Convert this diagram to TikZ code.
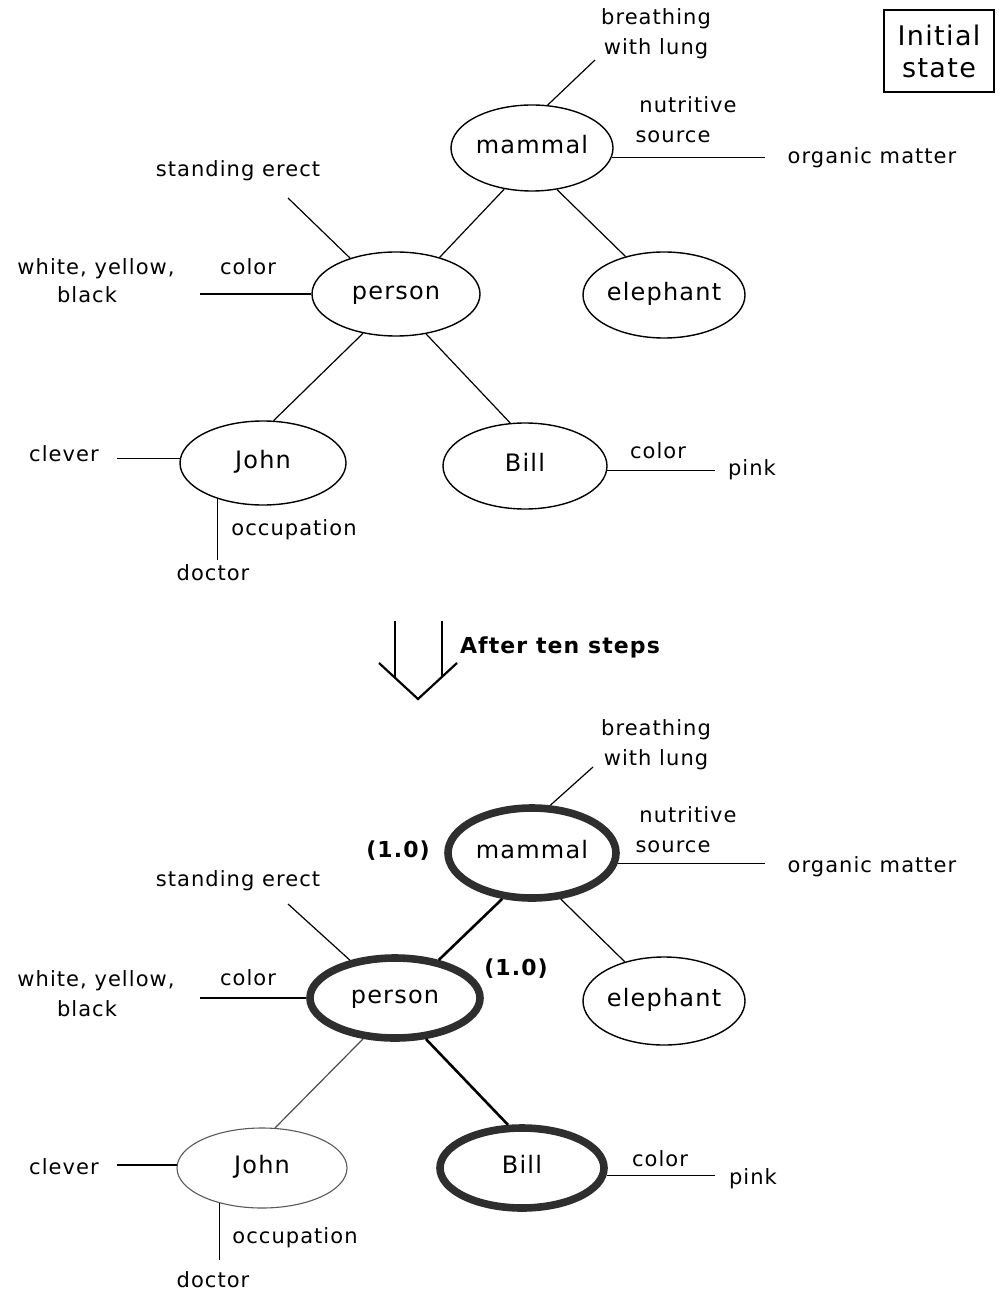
\documentclass[tikz,border=0pt]{standalone}
\usepackage{fontspec}
\setmainfont[LetterSpace=5]{DejaVu Sans}
\usetikzlibrary{shapes.geometric}
\tikzset{
  concept/.style={ellipse, draw=black, line width=0.7pt, inner sep=0pt,
    font=\fontsize{12}{14}\selectfont, text height=8pt, text depth=2.5pt},
  hot/.style={concept, draw=black!82, line width=3.8pt},
  faint/.style={concept, draw=black!65, line width=0.55pt},
  lab/.style={font=\fontsize{10.5}{12.5}\selectfont, inner sep=0pt, anchor=base},
  weight/.style={font=\bfseries\fontsize{11}{13}\selectfont, inner sep=0pt, anchor=base},
  link/.style={line width=0.6pt},
  hotlink/.style={line width=1.3pt},
}
\begin{document}
\begin{tikzpicture}[x=0.5pt, y=-0.5pt]
\useasboundingbox (0,0) rectangle (1000,1294);
\fill[white] (0,0) rectangle (1000,1294);

% ---------- Initial state ----------
\node[draw, line width=0.8pt, minimum width=55pt, minimum height=41pt, inner sep=0pt,
      align=center, font=\fontsize{13.5}{16}\selectfont] (init) at (939,51) {Initial\\state};

% ---------- top network ----------
\node[concept, minimum width=81pt, minimum height=43pt] (mammal) at (532,148) {mammal};
\node[concept, minimum width=84pt, minimum height=42pt] (person) at (396,294) {person};
\node[concept, minimum width=81pt, minimum height=43pt] (elephant) at (664,295) {elephant};
\node[concept, minimum width=83pt, minimum height=42pt] (john) at (263,463) {John};
\node[concept, minimum width=82pt, minimum height=43pt] (bill) at (525,466) {Bill};

\node[lab] (brA) at (656,25) {breathing};
\node[lab] (brB) at (656,55) {with lung};
\node[lab] (nuA) at (688,113) {nutritive};
\node[lab] (nuB) at (673,143) {source};
\node[lab] (org) at (872,164) {organic matter};
\node[lab] (std) at (238,177) {standing erect};
\node[lab] (wyA) at (96,275) {white, yellow,};
\node[lab] (wyB) at (87,303) {black};
\node[lab] (pcol) at (248,275) {color};
\node[lab] (clev) at (64,461) {clever};
\node[lab] (bcol) at (658,458) {color};
\node[lab] (pink) at (752,475) {pink};
\node[lab] (occ) at (294,535) {occupation};
\node[lab] (doc) at (213,580) {doctor};

\coordinate (brEnd) at (595,60);
\coordinate (nuEnd) at (765,159);
\coordinate (stdEnd) at (288,198);
\coordinate (colEnd) at (200,294);
\coordinate (clevEnd) at (117,459);
\coordinate (bcolEnd) at (715,471);
\coordinate (occEnd) at (217,560);

\draw[link] (mammal.70.8) -- (brEnd);
\draw[link] (mammal.-7.7) -- (mammal.-7.7 -| nuEnd);
\draw[link] (mammal.-124.6) -- (person.40.3);
\draw[link] (mammal.-59) -- (elephant.135.7);
\draw[link] (person.142.8) -- (stdEnd);
\draw[link] (person.west) -- (colEnd);
\draw[link] (person.-130) -- (john.76.9);
\draw[link] (person.-53.3) -- (bill.109.2);
\draw[link] (john.177) -- (john.177 -| clevEnd);
\draw[link] (bill.-3.5) -- (bill.-3.5 -| bcolEnd);
\draw[link] (john.-142.7) -- (john.-142.7 |- occEnd);

% ---------- transition arrow ----------
\draw[line width=1.1pt] (395,621) -- (395,678);
\draw[line width=1.1pt] (442,621) -- (442,677);
\draw[line width=1.1pt, line join=miter] (379,663) -- (418,699) -- (457,663);
\node[weight] (after) at (560,653) {After ten steps};

% ---------- bottom network ----------
\node[hot, minimum width=84pt, minimum height=45pt] (mammalB) at (532,853) {mammal};
\node[hot, minimum width=85pt, minimum height=40pt] (personB) at (395,998) {person};
\node[concept, minimum width=81pt, minimum height=44pt] (elephantB) at (664,1001) {elephant};
\node[faint, minimum width=85pt, minimum height=40pt] (johnB) at (262,1168) {John};
\node[hot, minimum width=82pt, minimum height=40pt] (billB) at (522,1168) {Bill};

\node[weight] (wM) at (398,857) {(1.0)};
\node[weight] (wP) at (516,975) {(1.0)};

\node[lab] (brAB) at (656,735) {breathing};
\node[lab] (brBB) at (656,765) {with lung};
\node[lab] (nuAB) at (688,822) {nutritive};
\node[lab] (nuBB) at (673,852) {source};
\node[lab] (orgB) at (872,872) {organic matter};
\node[lab] (stdB) at (238,886) {standing erect};
\node[lab] (wyAB) at (96,986) {white, yellow,};
\node[lab] (wyBB) at (87,1016) {black};
\node[lab] (pcolB) at (248,985) {color};
\node[lab] (clevB) at (64,1174) {clever};
\node[lab] (bcolB) at (660,1166) {color};
\node[lab] (pinkB) at (753,1184) {pink};
\node[lab] (occB) at (295,1243) {occupation};
\node[lab] (docB) at (213,1287) {doctor};

\coordinate (brEndB) at (593,767);
\coordinate (nuEndB) at (765,866);
\coordinate (stdEndB) at (288,904);
\coordinate (colEndB) at (200,998);
\coordinate (clevEndB) at (117,1169);
\coordinate (bcolEndB) at (715,1176);
\coordinate (occEndB) at (216,1260);

\draw[link] (mammalB.69.4) -- (brEndB);
\draw[link] (mammalB.-7.5) -- (mammalB.-7.5 -| nuEndB);
\draw[hotlink] (mammalB.-123.7) -- (personB.41.1);
\draw[link] (mammalB.-58.5) -- (elephantB.135.7);
\draw[link] (personB.140.6) -- (stdEndB);
\draw[link] (personB.west) -- (colEndB);
\draw[link, draw=black!70] (personB.-128) -- (johnB.72);
\draw[hotlink] (personB.-53.7) -- (billB.108.4);
\draw[link] (johnB.178) -- (johnB.178 -| clevEndB);
\draw[link] (billB.-5.6) -- (billB.-5.6 -| bcolEndB);
\draw[link, line width=0.5pt] (johnB.-140) -- (johnB.-140 |- occEndB);
\end{tikzpicture}
\end{document}
